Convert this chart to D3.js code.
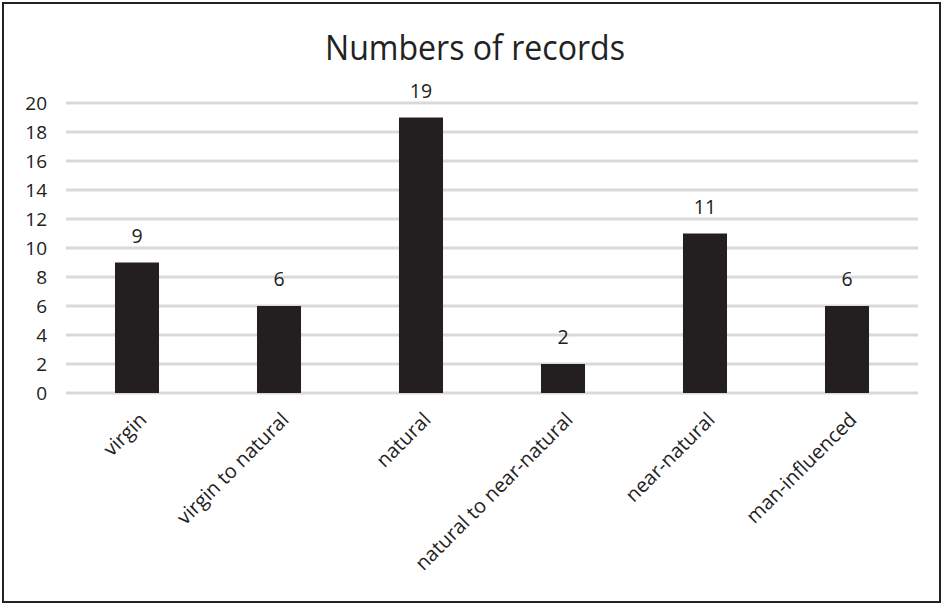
<!DOCTYPE html>
<html>
<head>
<meta charset="utf-8">
<script src="https://cdn.jsdelivr.net/npm/d3@7"></script>
<style>
  body { margin: 0; background: #fff; }
  text { font-family: "Open Sans", "Noto Sans", sans-serif; fill: #222; }
</style>
</head>
<body>
<div id="container"></div>
<script>
var categories = ["virgin", "virgin to natural", "natural", "natural to near-natural", "near-natural", "man-influenced"];
var records = [9, 6, 19, 2, 11, 6];
var yTicks = [0, 2, 4, 6, 8, 10, 12, 14, 16, 18, 20];

var W = 943, H = 605;
var plot = {left: 66, right: 918, top: 103, bottom: 393};

var svg = d3.select("#container").append("svg")
	.attr("width", W)
	.attr("height", H);

// outer frame
svg.append("rect")
	.attr("x", 3).attr("y", 3)
	.attr("width", W - 6).attr("height", H - 6)
	.attr("fill", "#fff")
	.attr("stroke", "#222")
	.attr("stroke-width", 2);

var x = d3.scaleBand()
	.domain(categories)
	.range([plot.left, plot.right])
	.paddingInner(0.69)
	.paddingOuter(0.345);

var y = d3.scaleLinear()
	.domain([0, 20])
	.range([plot.bottom, plot.top]);

// gridlines
svg.append("g")
	.selectAll("line")
	.data(yTicks)
	.join("line")
	.attr("x1", plot.left).attr("x2", plot.right)
	.attr("y1", d => y(d)).attr("y2", d => y(d))
	.attr("stroke", "#d9d9d9")
	.attr("stroke-width", 3);

// y axis labels
var yAxis = d3.axisLeft(y).tickValues(yTicks).tickSize(0).tickPadding(0);
svg.append("g")
	.attr("transform", "translate(" + (plot.left - 19) + ",0)")
	.call(yAxis)
	.call(g => g.select(".domain").remove())
	.selectAll("text")
	.attr("font-size", 19)
	.attr("dy", "0.35em")
	.style("font-family", "\"Open Sans\", sans-serif")
	.attr("fill", "#222");

// bars
svg.append("g")
	.selectAll("rect")
	.data(records)
	.join("rect")
	.attr("x", (d, i) => x(categories[i]))
	.attr("y", d => y(d))
	.attr("width", x.bandwidth())
	.attr("height", d => y(0) - y(d))
	.attr("fill", "#231f20");

// value labels
svg.append("g")
	.selectAll("text")
	.data(records)
	.join("text")
	.attr("x", (d, i) => x(categories[i]) + x.bandwidth() / 2)
	.attr("y", d => y(d) - 20)
	.attr("text-anchor", "middle")
	.attr("font-size", 19.5)
	.text(d => d);

// category labels, rotated
svg.append("g")
	.selectAll("text")
	.data(categories)
	.join("text")
	.attr("transform", d => "translate(" + (x(d) + x.bandwidth() / 2 + 11) + "," + (plot.bottom + 28) + ") rotate(-45)")
	.attr("text-anchor", "end")
	.attr("font-size", 20)
	.text(d => d);

// title
svg.append("text")
	.attr("x", 475)
	.attr("y", 60)
	.attr("text-anchor", "middle")
	.attr("font-size", 34)
	.attr("textLength", 300)
	.attr("lengthAdjust", "spacingAndGlyphs")
	.text("Numbers of records");
</script>
</body>
</html>
